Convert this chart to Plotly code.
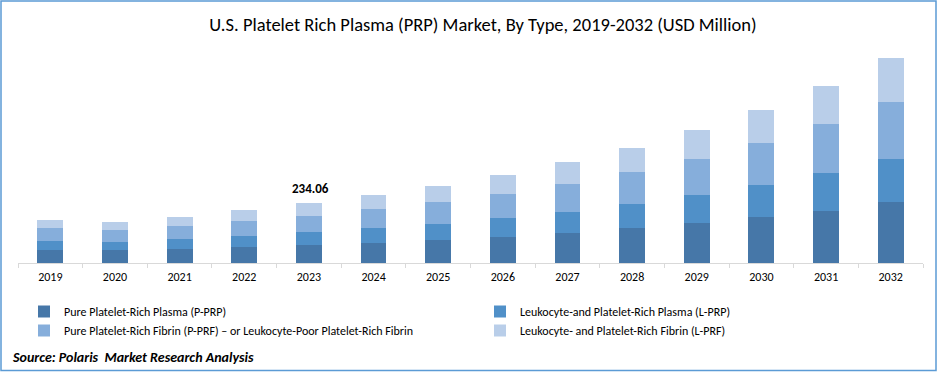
import plotly.graph_objects as go

years = ["2019", "2020", "2021", "2022", "2023", "2024", "2025",
         "2026", "2027", "2028", "2029", "2030", "2031", "2032"]

series_names = [
    "Pure Platelet-Rich Plasma (P-PRP)",
    "Leukocyte-and Platelet-Rich Plasma (L-PRP)",
    "Pure Platelet-Rich Fibrin (P-PRF) \u2013 or Leukocyte-Poor Platelet-Rich Fibrin",
    "Leukocyte- and Platelet-Rich Fibrin (L-PRF)",
]

p_prp = [49.7, 49.7, 53.6, 61.5, 69.30, 77.1, 88.9, 100.7, 116.4, 136.0, 155.6, 179.1, 202.7, 238.0]
l_prp = [35.3, 31.4, 39.2, 43.2, 51.00, 58.8, 62.8, 74.5, 82.4, 94.1, 109.8, 125.5, 149.1, 168.7]
p_prf = [51.0, 47.1, 51.0, 58.8, 62.76, 74.5, 86.3, 94.1, 109.8, 125.5, 141.2, 164.8, 192.2, 223.6]
l_prf = [31.4, 31.4, 35.3, 43.2, 51.00, 54.9, 62.8, 74.5, 86.3, 94.1, 113.8, 129.5, 149.1, 172.6]

highlight_year = "2023"
highlight_label = "234.06"

colors = ["#4677A8", "#5090C8", "#86AEDB", "#B9CEE9"]
values = [p_prp, l_prp, p_prf, l_prf]
legend_ids = ["legend", "legend2", "legend", "legend2"]

FONT = "Carlito, Liberation Sans Narrow, Liberation Sans, sans-serif"

fig = go.Figure()
for i, (name, vals, col, lg) in enumerate(zip(series_names, values, colors, legend_ids)):
    fig.add_trace(go.Bar(x=years, y=vals, name=name, marker_color=col,
                         marker_line_width=0, legend=lg, legendgroup="g%d" % i))

W, H = 937, 372
ml, mr, mt, mb = 18, 14, 50, 109
pw = W - ml - mr
ph = H - mt - mb
ymax = ph * 3.923

legend_common = dict(orientation="v", xref="container", yref="container",
                     xanchor="left", y=1 - 297 / H, yanchor="top",
                     font=dict(size=12, family=FONT, color="#000000"),
                     tracegroupgap=2, traceorder="normal", bgcolor="rgba(0,0,0,0)")

fig.update_layout(
    width=W, height=H,
    barmode="stack",
    bargap=0.6,
    margin=dict(l=ml, r=mr, t=mt, b=mb, autoexpand=False),
    paper_bgcolor="white",
    plot_bgcolor="white",
    font=dict(family=FONT, color="#000000"),
    title=dict(text="U.S. Platelet Rich Plasma (PRP) Market, By Type, 2019-2032 (USD Million)",
               x=483 / W, xanchor="center", y=1 - 25 / H, yanchor="middle",
               font=dict(size=18.5, family=FONT, color="#000000")),
    xaxis=dict(type="category", range=[-0.5, len(years) - 0.5], showgrid=False,
               showline=True, linecolor="#D9D9D9", linewidth=1,
               ticks="outside", tickson="boundaries", ticklen=4, tickcolor="#D9D9D9",
               tickangle=0, ticklabelstandoff=3,
               tickfont=dict(size=12, family=FONT, color="#000000")),
    yaxis=dict(range=[0, ymax], visible=False, showgrid=False, zeroline=False),
    legend=dict(x=24 / W, **legend_common),
    legend2=dict(x=480 / W, **legend_common),
    showlegend=True,
)

tot_idx = years.index(highlight_year)
total = sum(v[tot_idx] for v in values)
fig.add_annotation(x=tot_idx, y=total, text="<b>" + highlight_label + "</b>",
                   showarrow=False, yanchor="bottom", yshift=5, xshift=2,
                   font=dict(size=13, family=FONT, color="#000000"))

fig.add_annotation(xref="paper", yref="paper", x=(10 - ml) / pw, y=(H - mb - 357) / ph,
                   xanchor="left", yanchor="middle", showarrow=False,
                   text="<b><i>Source: Polaris  Market Research Analysis</i></b>",
                   font=dict(size=14, family=FONT, color="#000000"))

fig.add_shape(type="rect", xref="paper", yref="paper",
              x0=(1 - ml) / pw, x1=(936 - ml) / pw,
              y0=(H - mb - 370.5) / ph, y1=(H - mb - 1) / ph,
              line=dict(color="#5B9BD5", width=1.5), fillcolor="rgba(0,0,0,0)", layer="above")

fig.write_html("out.html", config={"displayModeBar": False},
               post_script="document.body.style.margin='0';document.body.style.overflow='hidden';")
